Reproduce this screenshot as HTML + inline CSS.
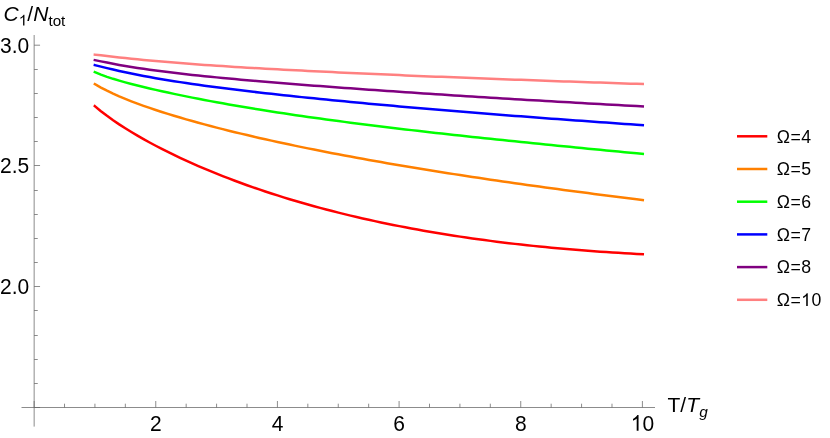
<!DOCTYPE html>
<html><head><meta charset="utf-8"><title>plot</title>
<style>
html,body{margin:0;padding:0;background:#fff;}
svg{display:block;will-change:transform;}
text{font-family:"Liberation Sans",sans-serif;fill:#000;}
</style></head><body>
<svg width="830" height="438" viewBox="0 0 830 438">
<rect width="830" height="438" fill="#fff"/>
<g stroke="#666666" stroke-width="0.75" fill="none">
<line x1="21.5" y1="407.5" x2="655" y2="407.5"/>
<line x1="34.15" y1="35" x2="34.15" y2="426.6"/>
<line x1="64.52" y1="407.5" x2="64.52" y2="403.7"/>
<line x1="94.93" y1="407.5" x2="94.93" y2="403.7"/>
<line x1="125.34" y1="407.5" x2="125.34" y2="403.7"/>
<line x1="155.76" y1="407.5" x2="155.76" y2="401.0"/>
<line x1="186.17" y1="407.5" x2="186.17" y2="403.7"/>
<line x1="216.59" y1="407.5" x2="216.59" y2="403.7"/>
<line x1="247.00" y1="407.5" x2="247.00" y2="403.7"/>
<line x1="277.42" y1="407.5" x2="277.42" y2="401.0"/>
<line x1="307.84" y1="407.5" x2="307.84" y2="403.7"/>
<line x1="338.25" y1="407.5" x2="338.25" y2="403.7"/>
<line x1="368.67" y1="407.5" x2="368.67" y2="403.7"/>
<line x1="399.08" y1="407.5" x2="399.08" y2="401.0"/>
<line x1="429.50" y1="407.5" x2="429.50" y2="403.7"/>
<line x1="459.91" y1="407.5" x2="459.91" y2="403.7"/>
<line x1="490.32" y1="407.5" x2="490.32" y2="403.7"/>
<line x1="520.74" y1="407.5" x2="520.74" y2="401.0"/>
<line x1="551.15" y1="407.5" x2="551.15" y2="403.7"/>
<line x1="581.57" y1="407.5" x2="581.57" y2="403.7"/>
<line x1="611.99" y1="407.5" x2="611.99" y2="403.7"/>
<line x1="642.40" y1="407.5" x2="642.40" y2="401.0"/>
<line x1="34.15" y1="407.5" x2="34.15" y2="401.0"/>
<line x1="34.15" y1="407.5" x2="40.05" y2="407.5"/>
<line x1="34.15" y1="383.50" x2="37.75" y2="383.50"/>
<line x1="34.15" y1="359.50" x2="37.75" y2="359.50"/>
<line x1="34.15" y1="335.50" x2="37.75" y2="335.50"/>
<line x1="34.15" y1="310.50" x2="37.75" y2="310.50"/>
<line x1="34.15" y1="286.50" x2="40.05" y2="286.50"/>
<line x1="34.15" y1="262.50" x2="37.75" y2="262.50"/>
<line x1="34.15" y1="238.50" x2="37.75" y2="238.50"/>
<line x1="34.15" y1="214.50" x2="37.75" y2="214.50"/>
<line x1="34.15" y1="190.50" x2="37.75" y2="190.50"/>
<line x1="34.15" y1="165.50" x2="40.05" y2="165.50"/>
<line x1="34.15" y1="141.50" x2="37.75" y2="141.50"/>
<line x1="34.15" y1="117.50" x2="37.75" y2="117.50"/>
<line x1="34.15" y1="93.50" x2="37.75" y2="93.50"/>
<line x1="34.15" y1="69.50" x2="37.75" y2="69.50"/>
<line x1="34.15" y1="45.20" x2="40.05" y2="45.20"/>
</g>
<g>
<path d="M94.85 106.13 L100.93 111.19 L107.02 115.86 L113.11 120.24 L119.20 124.37 L125.29 128.30 L131.37 132.06 L137.46 135.67 L143.55 139.14 L149.64 142.50 L155.73 145.75 L161.82 148.90 L167.90 151.96 L173.99 154.93 L180.08 157.82 L186.17 160.63 L192.26 163.38 L198.34 166.05 L204.43 168.65 L210.52 171.19 L216.61 173.67 L222.70 176.09 L228.78 178.45 L234.87 180.75 L240.96 183.00 L247.05 185.20 L253.14 187.34 L259.22 189.44 L265.31 191.48 L271.40 193.48 L277.49 195.43 L283.58 197.34 L289.66 199.20 L295.75 201.02 L301.84 202.80 L307.93 204.54 L314.02 206.23 L320.11 207.89 L326.19 209.50 L332.28 211.08 L338.37 212.62 L344.46 214.13 L350.55 215.60 L356.63 217.03 L362.72 218.43 L368.81 219.79 L374.90 221.13 L380.99 222.43 L387.07 223.69 L393.16 224.93 L399.25 226.14 L405.34 227.31 L411.43 228.46 L417.51 229.58 L423.60 230.67 L429.69 231.73 L435.78 232.76 L441.87 233.76 L447.96 234.74 L454.04 235.70 L460.13 236.62 L466.22 237.52 L472.31 238.40 L478.40 239.25 L484.48 240.08 L490.57 240.88 L496.66 241.66 L502.75 242.42 L508.84 243.16 L514.92 243.87 L521.01 244.56 L527.10 245.23 L533.19 245.87 L539.28 246.50 L545.36 247.10 L551.45 247.69 L557.54 248.25 L563.63 248.80 L569.72 249.33 L575.80 249.83 L581.89 250.32 L587.98 250.79 L594.07 251.24 L600.16 251.67 L606.25 252.08 L612.33 252.48 L618.42 252.86 L624.51 253.22 L630.60 253.57 L636.69 253.89 L642.77 254.21" fill="none" stroke="#ff0000" stroke-width="2.5" stroke-linecap="square" stroke-linejoin="round"/>
<path d="M94.85 84.12 L100.93 87.58 L107.02 90.72 L113.11 93.62 L119.20 96.33 L125.29 98.88 L131.37 101.30 L137.46 103.60 L143.55 105.81 L149.64 107.94 L155.73 109.98 L161.82 111.97 L167.90 113.89 L173.99 115.76 L180.08 117.57 L186.17 119.34 L192.26 121.07 L198.34 122.76 L204.43 124.41 L210.52 126.03 L216.61 127.61 L222.70 129.16 L228.78 130.68 L234.87 132.18 L240.96 133.65 L247.05 135.09 L253.14 136.51 L259.22 137.91 L265.31 139.28 L271.40 140.63 L277.49 141.97 L283.58 143.28 L289.66 144.57 L295.75 145.85 L301.84 147.11 L307.93 148.35 L314.02 149.57 L320.11 150.78 L326.19 151.97 L332.28 153.15 L338.37 154.32 L344.46 155.47 L350.55 156.60 L356.63 157.72 L362.72 158.83 L368.81 159.93 L374.90 161.02 L380.99 162.09 L387.07 163.15 L393.16 164.20 L399.25 165.24 L405.34 166.27 L411.43 167.29 L417.51 168.29 L423.60 169.29 L429.69 170.28 L435.78 171.26 L441.87 172.23 L447.96 173.18 L454.04 174.14 L460.13 175.08 L466.22 176.01 L472.31 176.94 L478.40 177.85 L484.48 178.76 L490.57 179.66 L496.66 180.55 L502.75 181.44 L508.84 182.32 L514.92 183.19 L521.01 184.05 L527.10 184.91 L533.19 185.76 L539.28 186.60 L545.36 187.44 L551.45 188.26 L557.54 189.09 L563.63 189.90 L569.72 190.72 L575.80 191.52 L581.89 192.32 L587.98 193.11 L594.07 193.90 L600.16 194.68 L606.25 195.45 L612.33 196.22 L618.42 196.99 L624.51 197.75 L630.60 198.50 L636.69 199.25 L642.77 199.99" fill="none" stroke="#ff8000" stroke-width="2.5" stroke-linecap="square" stroke-linejoin="round"/>
<path d="M94.85 72.07 L100.93 74.61 L107.02 76.83 L113.11 78.82 L119.20 80.64 L125.29 82.35 L131.37 83.98 L137.46 85.53 L143.55 87.02 L149.64 88.47 L155.73 89.87 L161.82 91.24 L167.90 92.57 L173.99 93.87 L180.08 95.14 L186.17 96.39 L192.26 97.61 L198.34 98.80 L204.43 99.97 L210.52 101.11 L216.61 102.23 L222.70 103.34 L228.78 104.42 L234.87 105.48 L240.96 106.52 L247.05 107.54 L253.14 108.55 L259.22 109.54 L265.31 110.51 L271.40 111.47 L277.49 112.41 L283.58 113.33 L289.66 114.24 L295.75 115.14 L301.84 116.03 L307.93 116.90 L314.02 117.76 L320.11 118.60 L326.19 119.44 L332.28 120.26 L338.37 121.07 L344.46 121.88 L350.55 122.67 L356.63 123.45 L362.72 124.22 L368.81 124.99 L374.90 125.74 L380.99 126.49 L387.07 127.23 L393.16 127.96 L399.25 128.69 L405.34 129.41 L411.43 130.12 L417.51 130.82 L423.60 131.52 L429.69 132.21 L435.78 132.89 L441.87 133.57 L447.96 134.25 L454.04 134.92 L460.13 135.58 L466.22 136.24 L472.31 136.89 L478.40 137.54 L484.48 138.19 L490.57 138.83 L496.66 139.47 L502.75 140.10 L508.84 140.73 L514.92 141.35 L521.01 141.98 L527.10 142.60 L533.19 143.21 L539.28 143.83 L545.36 144.44 L551.45 145.04 L557.54 145.65 L563.63 146.25 L569.72 146.85 L575.80 147.45 L581.89 148.04 L587.98 148.64 L594.07 149.23 L600.16 149.82 L606.25 150.40 L612.33 150.99 L618.42 151.57 L624.51 152.16 L630.60 152.74 L636.69 153.32 L642.77 153.89" fill="none" stroke="#00ff00" stroke-width="2.5" stroke-linecap="square" stroke-linejoin="round"/>
<path d="M94.85 65.12 L100.93 66.65 L107.02 68.15 L113.11 69.59 L119.20 70.97 L125.29 72.30 L131.37 73.57 L137.46 74.79 L143.55 75.96 L149.64 77.08 L155.73 78.16 L161.82 79.21 L167.90 80.21 L173.99 81.19 L180.08 82.13 L186.17 83.05 L192.26 83.94 L198.34 84.81 L204.43 85.65 L210.52 86.48 L216.61 87.28 L222.70 88.07 L228.78 88.84 L234.87 89.60 L240.96 90.34 L247.05 91.07 L253.14 91.78 L259.22 92.49 L265.31 93.18 L271.40 93.86 L277.49 94.53 L283.58 95.19 L289.66 95.84 L295.75 96.48 L301.84 97.12 L307.93 97.75 L314.02 98.36 L320.11 98.98 L326.19 99.58 L332.28 100.18 L338.37 100.77 L344.46 101.35 L350.55 101.93 L356.63 102.51 L362.72 103.08 L368.81 103.64 L374.90 104.19 L380.99 104.75 L387.07 105.29 L393.16 105.84 L399.25 106.38 L405.34 106.91 L411.43 107.44 L417.51 107.96 L423.60 108.49 L429.69 109.00 L435.78 109.52 L441.87 110.03 L447.96 110.53 L454.04 111.03 L460.13 111.53 L466.22 112.03 L472.31 112.52 L478.40 113.01 L484.48 113.49 L490.57 113.98 L496.66 114.46 L502.75 114.93 L508.84 115.41 L514.92 115.88 L521.01 116.34 L527.10 116.81 L533.19 117.27 L539.28 117.73 L545.36 118.18 L551.45 118.64 L557.54 119.09 L563.63 119.54 L569.72 119.98 L575.80 120.43 L581.89 120.87 L587.98 121.31 L594.07 121.74 L600.16 122.18 L606.25 122.61 L612.33 123.04 L618.42 123.47 L624.51 123.89 L630.60 124.32 L636.69 124.74 L642.77 125.15" fill="none" stroke="#0000ff" stroke-width="2.5" stroke-linecap="square" stroke-linejoin="round"/>
<path d="M94.85 60.13 L100.93 61.38 L107.02 62.60 L113.11 63.78 L119.20 64.90 L125.29 65.97 L131.37 66.98 L137.46 67.94 L143.55 68.85 L149.64 69.72 L155.73 70.55 L161.82 71.35 L167.90 72.11 L173.99 72.85 L180.08 73.55 L186.17 74.24 L192.26 74.90 L198.34 75.55 L204.43 76.17 L210.52 76.78 L216.61 77.38 L222.70 77.96 L228.78 78.53 L234.87 79.09 L240.96 79.64 L247.05 80.18 L253.14 80.71 L259.22 81.23 L265.31 81.75 L271.40 82.25 L277.49 82.75 L283.58 83.25 L289.66 83.74 L295.75 84.22 L301.84 84.69 L307.93 85.17 L314.02 85.63 L320.11 86.10 L326.19 86.55 L332.28 87.01 L338.37 87.46 L344.46 87.91 L350.55 88.35 L356.63 88.79 L362.72 89.22 L368.81 89.65 L374.90 90.08 L380.99 90.51 L387.07 90.93 L393.16 91.35 L399.25 91.76 L405.34 92.18 L411.43 92.59 L417.51 93.00 L423.60 93.40 L429.69 93.80 L435.78 94.20 L441.87 94.60 L447.96 94.99 L454.04 95.38 L460.13 95.77 L466.22 96.16 L472.31 96.54 L478.40 96.93 L484.48 97.31 L490.57 97.68 L496.66 98.06 L502.75 98.43 L508.84 98.80 L514.92 99.17 L521.01 99.53 L527.10 99.89 L533.19 100.26 L539.28 100.61 L545.36 100.97 L551.45 101.32 L557.54 101.68 L563.63 102.03 L569.72 102.37 L575.80 102.72 L581.89 103.06 L587.98 103.40 L594.07 103.74 L600.16 104.08 L606.25 104.41 L612.33 104.75 L618.42 105.08 L624.51 105.41 L630.60 105.73 L636.69 106.06 L642.77 106.38" fill="none" stroke="#800080" stroke-width="2.5" stroke-linecap="square" stroke-linejoin="round"/>
<path d="M94.85 54.67 L100.93 55.34 L107.02 56.02 L113.11 56.71 L119.20 57.39 L125.29 58.05 L131.37 58.70 L137.46 59.32 L143.55 59.92 L149.64 60.49 L155.73 61.05 L161.82 61.59 L167.90 62.11 L173.99 62.61 L180.08 63.09 L186.17 63.56 L192.26 64.02 L198.34 64.46 L204.43 64.89 L210.52 65.31 L216.61 65.72 L222.70 66.12 L228.78 66.51 L234.87 66.89 L240.96 67.26 L247.05 67.63 L253.14 67.98 L259.22 68.33 L265.31 68.68 L271.40 69.02 L277.49 69.35 L283.58 69.67 L289.66 70.00 L295.75 70.31 L301.84 70.62 L307.93 70.93 L314.02 71.23 L320.11 71.53 L326.19 71.83 L332.28 72.12 L338.37 72.41 L344.46 72.69 L350.55 72.97 L356.63 73.25 L362.72 73.53 L368.81 73.80 L374.90 74.07 L380.99 74.34 L387.07 74.60 L393.16 74.86 L399.25 75.12 L405.34 75.38 L411.43 75.63 L417.51 75.88 L423.60 76.13 L429.69 76.38 L435.78 76.63 L441.87 76.87 L447.96 77.11 L454.04 77.35 L460.13 77.59 L466.22 77.82 L472.31 78.06 L478.40 78.29 L484.48 78.52 L490.57 78.75 L496.66 78.98 L502.75 79.20 L508.84 79.43 L514.92 79.65 L521.01 79.87 L527.10 80.09 L533.19 80.31 L539.28 80.53 L545.36 80.74 L551.45 80.96 L557.54 81.17 L563.63 81.38 L569.72 81.59 L575.80 81.80 L581.89 82.01 L587.98 82.22 L594.07 82.42 L600.16 82.62 L606.25 82.83 L612.33 83.03 L618.42 83.23 L624.51 83.43 L630.60 83.63 L636.69 83.82 L642.77 84.02" fill="none" stroke="#ff8080" stroke-width="2.5" stroke-linecap="square" stroke-linejoin="round"/>
</g>
<g>
<text transform="translate(155.84,430.7) scale(1,1.04)" text-anchor="middle" font-size="21.0">2</text>
<text transform="translate(277.48,430.7) scale(1,1.04)" text-anchor="middle" font-size="21.0">4</text>
<text transform="translate(399.12,430.7) scale(1,1.04)" text-anchor="middle" font-size="21.0">6</text>
<text transform="translate(520.76,430.7) scale(1,1.04)" text-anchor="middle" font-size="21.0">8</text>
<path transform="translate(630.72,430.70) scale(0.01025,-0.01066)" d="M763 0H583V1147Q518 1085 412.5 1023Q307 961 223 930V1104Q374 1175 487 1276Q600 1377 647 1472H763Z" fill="#000"/>
<text transform="translate(642.40,430.7) scale(1,1.04)" font-size="21.0">0</text>
<text transform="translate(29.2,52.80) scale(1,1.04)" text-anchor="end" font-size="21.0">3.0</text>
<text transform="translate(29.2,173.10) scale(1,1.04)" text-anchor="end" font-size="21.0">2.5</text>
<text transform="translate(29.2,294.10) scale(1,1.04)" text-anchor="end" font-size="21.0">2.0</text>
<text x="3.60" y="21.2" font-size="21.0" font-style="italic">C</text>
<path transform="translate(18.77,25.60) scale(0.00742,-0.00742)" d="M763 0H583V1147Q518 1085 412.5 1023Q307 961 223 930V1104Q374 1175 487 1276Q600 1377 647 1472H763Z" fill="#000"/>
<text x="27.22" y="21.2" font-size="21.0">/</text>
<text x="33.25" y="21.2" font-size="21.0" font-style="italic">N</text>
<text x="48.42" y="25.6" font-size="15.2">tot</text>
<text x="667.5" y="412" font-size="21.0">T/<tspan font-style="italic">T</tspan><tspan font-size="15.4" font-style="italic" dy="4.6" dx="0.3">g</tspan></text>
</g>
<g>
<line x1="737" y1="136.30" x2="767.3" y2="136.30" stroke="#ff0000" stroke-width="2.5"/>
<text x="776.8" y="142.50" font-size="17.7" letter-spacing="0.4">Ω=4</text>
<line x1="737" y1="169.00" x2="767.3" y2="169.00" stroke="#ff8000" stroke-width="2.5"/>
<text x="776.8" y="175.20" font-size="17.7" letter-spacing="0.4">Ω=5</text>
<line x1="737" y1="201.70" x2="767.3" y2="201.70" stroke="#00ff00" stroke-width="2.5"/>
<text x="776.8" y="207.90" font-size="17.7" letter-spacing="0.4">Ω=6</text>
<line x1="737" y1="234.40" x2="767.3" y2="234.40" stroke="#0000ff" stroke-width="2.5"/>
<text x="776.8" y="240.60" font-size="17.7" letter-spacing="0.4">Ω=7</text>
<line x1="737" y1="267.10" x2="767.3" y2="267.10" stroke="#800080" stroke-width="2.5"/>
<text x="776.8" y="273.30" font-size="17.7" letter-spacing="0.4">Ω=8</text>
<line x1="737" y1="299.80" x2="767.3" y2="299.80" stroke="#ff8080" stroke-width="2.5"/>
<text x="776.8" y="306.00" font-size="17.7" letter-spacing="0.4">Ω=</text>
<path transform="translate(801.17,306.00) scale(0.00864,-0.00864)" d="M763 0H583V1147Q518 1085 412.5 1023Q307 961 223 930V1104Q374 1175 487 1276Q600 1377 647 1472H763Z" fill="#000"/>
<text x="811.41" y="306.00" font-size="17.7">0</text>
</g>
</svg>
</body></html>
